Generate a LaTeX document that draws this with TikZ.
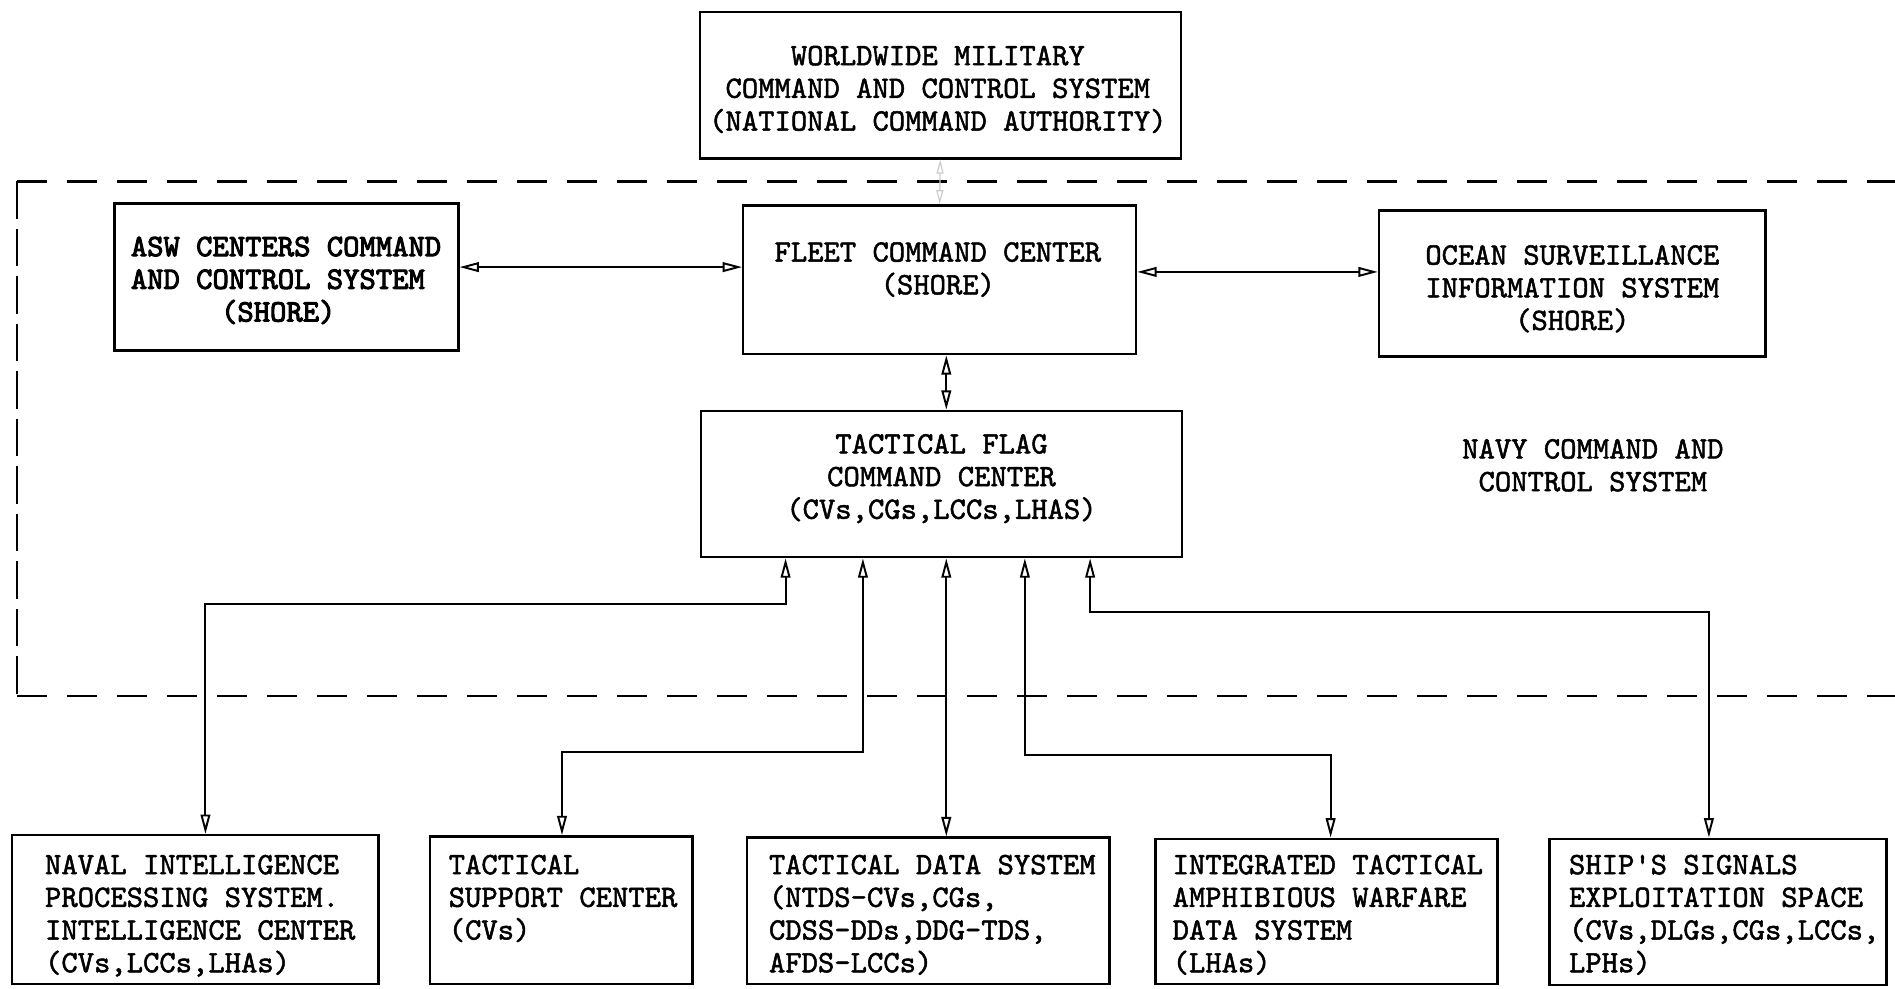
\documentclass[tikz,border=0pt]{standalone}
\usepackage{fontspec}
\usetikzlibrary{arrows.meta,fit}
\font\twfnt="[lmmono10-regular.otf]:embolden=1.6" at 17.7pt
\font\twbfnt="[lmmono10-regular.otf]:embolden=3.2" at 17.7pt
\newcommand\twfont{\fontsize{17.7pt}{18.6pt}\selectfont\twfnt}
\newcommand\twbold{\fontsize{17.7pt}{18.6pt}\selectfont\twbfnt}
\begin{document}
\begin{tikzpicture}[x=0.02417cm,y=-0.02417cm,
  box/.style={draw,line width=1.4pt,rectangle,inner sep=0pt},
  txt/.style={inner sep=0pt,font=\twfont,align=center},
  ltxt/.style={inner sep=0pt,font=\twfont,align=left,anchor=north west},
  dbl/.style={line width=1.1pt,{Triangle[open,length=11pt,width=5.5pt]}-{Triangle[open,length=11pt,width=5.5pt]}},
  faint/.style={line width=0.7pt,draw=black!20,{Triangle[open,length=8pt,width=4pt]}-{Triangle[open,length=8pt,width=4pt]}},
  hregion/.style={line width=1.4pt,dash pattern=on 0.6cm off 0.4cm},
  vregion/.style={line width=1.4pt,dash pattern=on 0.75cm off 0.2cm}]
\useasboundingbox (0,0) rectangle (1568,818);
\fill[white] (0,0) rectangle (1568,818);

% region boundary
\coordinate (r1) at (14,150);
\coordinate (r2) at (14,576);
\coordinate (r3) at (1575,150);
\coordinate (r4) at (1575,576);
\draw[hregion] (r1) -- (r3);
\draw[hregion] (r2) -- (r4);
\draw[vregion] (r1) -- (r2);

% boxes
\node[box,fit={(579,10) (977,131)}] (wm) {};
\node[box,line width=1.7pt,fit={(95,168) (379,290)}] (asw) {};
\node[box,fit={(615,170) (940,293)}] (fcc) {};
\node[box,fit={(1141,174) (1461,295)}] (osis) {};
\node[box,fit={(580,340) (978,461)}] (tfcc) {};
\node[box,fit={(10,691) (313,814)}] (nips) {};
\node[box,fit={(356,692) (573,814)}] (tsc) {};
\node[box,fit={(618,693) (918,814)}] (tds) {};
\node[box,fit={(956,694) (1239,814)}] (itaw) {};
\node[box,fit={(1282,694) (1561,815)}] (sses) {};

% texts
\node[txt] (wmt) at (776,74) {WORLDWIDE MILITARY\\COMMAND AND CONTROL SYSTEM\\(NATIONAL COMMAND AUTHORITY)};
\node[txt,align=left,anchor=west,font=\twbold] (aswt) at (108,232) {ASW CENTERS COMMAND\\AND CONTROL SYSTEM\\\hspace*{2.9em}(SHORE)};
\node[txt] (fcct) at (776,223) {FLEET COMMAND CENTER\\(SHORE)};
\node[txt] (osist) at (1301,239) {OCEAN SURVEILLANCE\\INFORMATION SYSTEM\\(SHORE)};
\node[txt] (tfcct) at (779,396) {TACTICAL FLAG\\COMMAND CENTER\\(CVs,CGs,LCCs,LHAS)};
\node[txt] (navy) at (1318,385) {NAVY COMMAND AND\\CONTROL SYSTEM};
\node[ltxt] (nipst) at (37,707) {NAVAL INTELLIGENCE\\PROCESSING SYSTEM.\\INTELLIGENCE CENTER\\(CVs,LCCs,LHAs)};
\node[ltxt] (tsct) at (371,707) {TACTICAL\\SUPPORT CENTER\\(CVs)};
\node[ltxt] (tdst) at (636,707) {TACTICAL DATA SYSTEM\\(NTDS-CVs,CGs,\\CDSS-DDs,DDG-TDS,\\AFDS-LCCs)};
\node[ltxt] (itawt) at (970,707) {INTEGRATED TACTICAL\\AMPHIBIOUS WARFARE\\DATA SYSTEM\\(LHAs)};
\node[ltxt] (ssest) at (1298,707) {SHIP'S SIGNALS\\EXPLOITATION SPACE\\(CVs,DLGs,CGs,LCCs,\\LPHs)};

% upper connectors
\draw[faint] (wm.south) -- (fcc.north);
\coordinate (h1) at (379,221);
\coordinate (h2) at (940,225);
\draw[dbl] (asw.east |- h1) -- (fcc.west |- h1);
\draw[dbl] (fcc.east |- h2) -- (osis.west |- h2);
\coordinate (v1) at (783,300);
\draw[dbl] (fcc.south -| v1) -- (tfcc.north -| v1);

% lower connectors
\coordinate (a1) at (650,500);
\coordinate (a2) at (170,500);
\draw[dbl] (tfcc.south -| a1) -- (a1) -- (a2) -- (nips.north -| a2);
\coordinate (b1) at (714,622);
\coordinate (b2) at (465,622);
\draw[dbl] (tfcc.south -| b1) -- (b1) -- (b2) -- (tsc.north -| b2);
\coordinate (c1) at (783,600);
\draw[dbl] (tfcc.south -| c1) -- (tds.north -| c1);
\coordinate (d1) at (848,625);
\coordinate (d2) at (1101,625);
\draw[dbl] (tfcc.south -| d1) -- (d1) -- (d2) -- (itaw.north -| d2);
\coordinate (e1) at (902,506);
\coordinate (e2) at (1414,506);
\draw[dbl] (tfcc.south -| e1) -- (e1) -- (e2) -- (sses.north -| e2);
\end{tikzpicture}
\end{document}
